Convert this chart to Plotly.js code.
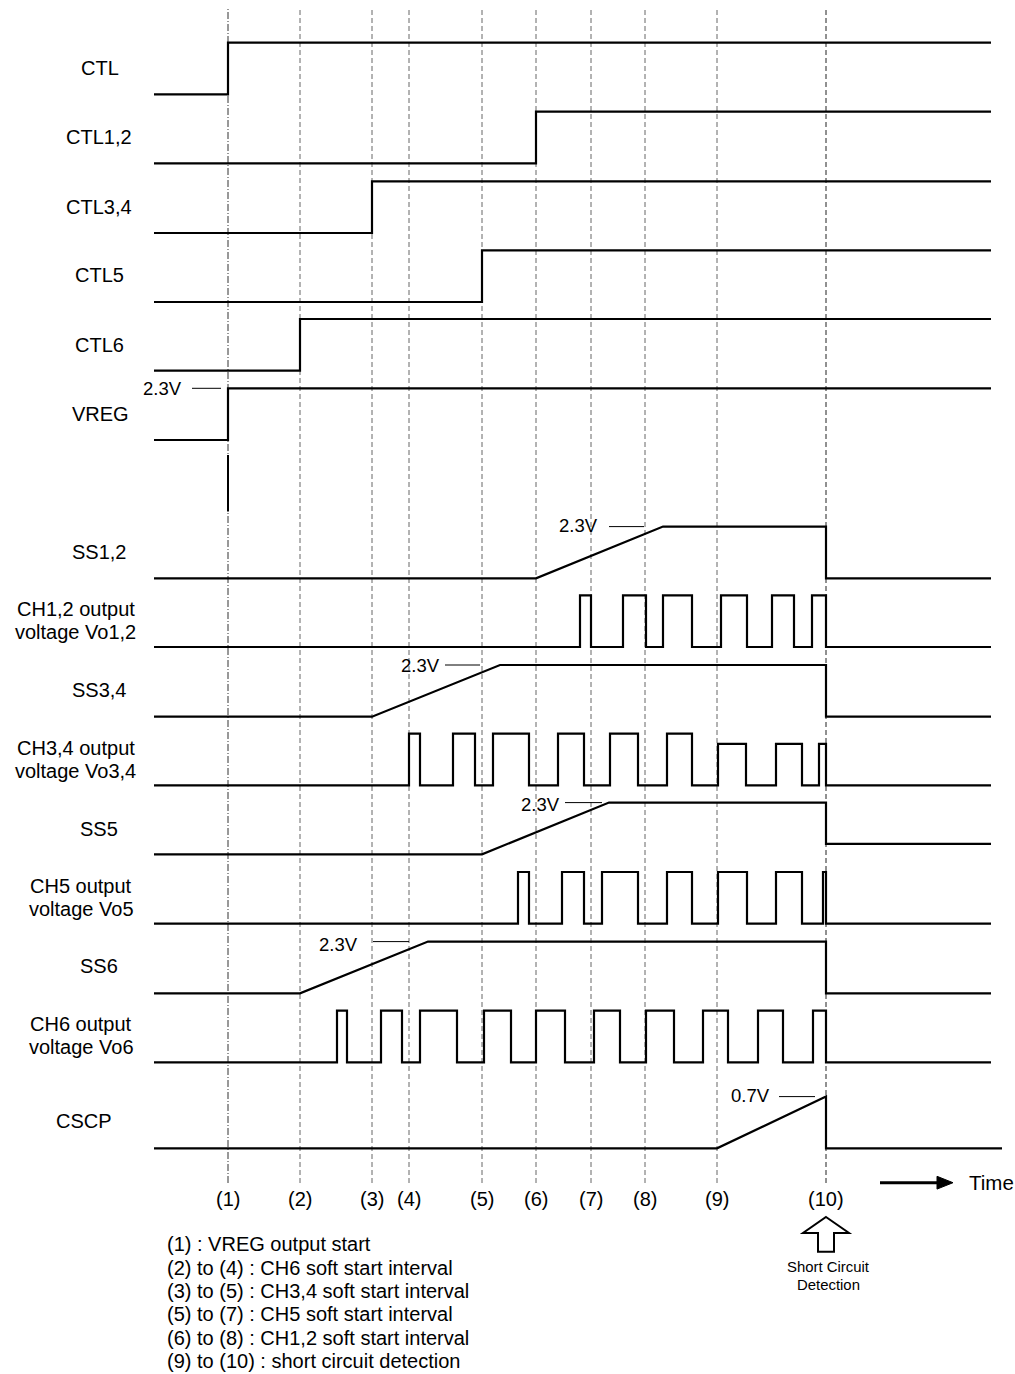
<!DOCTYPE html>
<html>
<head>
<meta charset="utf-8">
<script src="https://cdn.plot.ly/plotly-3.0.1.min.js"></script>
<style>html,body{margin:0;padding:0;background:#fff;}#chart{width:1015px;height:1374px;}</style>
</head>
<body>
<div id="chart"></div>
<script>
// ---------------- DATA ----------------
const eventLabels = ['(1)','(2)','(3)','(4)','(5)','(6)','(7)','(8)','(9)','(10)'];
const eventTimes  = [228, 300, 372, 409, 482, 536, 591, 645, 717, 826];

const tStart = 154;
const tEnd = 991;
const tDetect = 826;

// step signals (low -> high at rise time)
const stepNames = ['CTL', 'CTL1,2', 'CTL3,4', 'CTL5', 'CTL6', 'VREG'];
const stepRise  = [228, 536, 372, 482, 300, 228];

// soft-start ramps (level 1 = 2.3V)
const rampNames    = ['SS1,2', 'SS3,4', 'SS5', 'SS6'];
const rampStart    = [536, 372, 482, 300];
const rampTop      = [663, 500, 609, 428];
const rampAfterLvl = [0, 0, 0.2, 0];

// switching outputs
const ch12Rise = [580, 623, 663, 721, 772, 812];
const ch12Fall = [591, 646, 692, 747, 794, 826];
const ch12Amp  = [1, 1, 1, 1, 1, 1];

const ch34Rise = [409, 453, 493, 558, 610, 667, 718, 776, 819];
const ch34Fall = [420, 475, 529, 584, 638, 692, 746, 802, 826];
const ch34Amp  = [1, 1, 1, 1, 1, 1, 0.8, 0.8, 0.8];

const ch5Rise = [518, 562, 602, 667, 718, 776, 823];
const ch5Fall = [529, 584, 638, 692, 747, 802, 826];
const ch5Amp  = [1, 1, 1, 1, 1, 1, 1];

const ch6Rise = [337, 381, 420, 484, 536, 594, 646, 703, 758, 813];
const ch6Fall = [347, 402, 457, 511, 565, 620, 674, 728, 783, 826];
const ch6Amp  = [1, 1, 1, 1, 1, 1, 1, 1, 1, 1];

// short-circuit timer (level 1 = 0.7V)
const cscpTimes  = [154, 717, 826, 826, 1002];
const cscpLevels = [0, 0, 1, 0, 0];

const legendLines = [
  '(1) : VREG output start',
  '(2) to (4) : CH6 soft start interval',
  '(3) to (5) : CH3,4 soft start interval',
  '(5) to (7) : CH5 soft start interval',
  '(6) to (8) : CH1,2 soft start interval',
  '(9) to (10) : short circuit detection'
];

// ---------------- LAYOUT CONSTANTS ----------------
const W = 1015, H = 1374;
const FONT = 'Liberation Sans, Arial, Helvetica, sans-serif';
const rowBase = [94.3, 163.3, 233, 302, 370.7, 440, 578.3, 647, 716.7, 785.3, 854.3, 923.7, 993.3, 1062.3, 1148.3];
const rowH = 51.7;
const padLo = 0.3, padHi = 1.3;
const py = v => 1 - v / H;

// row label positions: [text, centerX, centerY]
const rowLabels = [
  ['CTL', 100, 68], ['CTL1,2', 99, 137], ['CTL3,4', 99, 207], ['CTL5', 99.5, 275],
  ['CTL6', 99.5, 345], ['VREG', 100, 414],
  ['SS1,2', 99.3, 552], ['CH1,2 output', 75.5, 609], ['voltage Vo1,2', 75.8, 632.5],
  ['SS3,4', 99.3, 690], ['CH3,4 output', 75.5, 748], ['voltage Vo3,4', 75.8, 771],
  ['SS5', 99, 828.5], ['CH5 output', 81, 886], ['voltage Vo5', 81.5, 908.5],
  ['SS6', 98.5, 966], ['CH6 output', 81, 1024], ['voltage Vo6', 81.5, 1047],
  ['CSCP', 84, 1121]
];

// ---------------- BUILD ----------------
function stepSeries(rise) {
  return {t: [tStart, rise, rise, tEnd], v: [0, 0, 1, 1]};
}
function rampSeries(s, top, after) {
  return {t: [tStart, s, top, tDetect, tDetect, tEnd], v: [0, 0, 1, 1, after, after]};
}
function pulseSeries(rise, fall, amp) {
  const t = [tStart], v = [0];
  for (let i = 0; i < rise.length; i++) {
    t.push(rise[i], rise[i], fall[i], fall[i]);
    v.push(0, amp[i], amp[i], 0);
  }
  t.push(tEnd); v.push(0);
  return {t, v};
}

const series = [];
stepNames.forEach((n, i) => series.push(stepSeries(stepRise[i])));
series.push(rampSeries(rampStart[0], rampTop[0], rampAfterLvl[0]));
series.push(pulseSeries(ch12Rise, ch12Fall, ch12Amp));
series.push(rampSeries(rampStart[1], rampTop[1], rampAfterLvl[1]));
series.push(pulseSeries(ch34Rise, ch34Fall, ch34Amp));
series.push(rampSeries(rampStart[2], rampTop[2], rampAfterLvl[2]));
series.push(pulseSeries(ch5Rise, ch5Fall, ch5Amp));
series.push(rampSeries(rampStart[3], rampTop[3], rampAfterLvl[3]));
series.push(pulseSeries(ch6Rise, ch6Fall, ch6Amp));
series.push({t: cscpTimes, v: cscpLevels});

const layout = {
  width: W, height: H,
  margin: {l: 0, r: 0, t: 0, b: 0, pad: 0},
  paper_bgcolor: '#ffffff',
  plot_bgcolor: 'rgba(0,0,0,0)',
  showlegend: false,
  font: {family: FONT, size: 20, color: '#000'},
  xaxis: {range: [0, W], domain: [0, 1], visible: false, fixedrange: true},
  shapes: [],
  annotations: []
};

const traces = [];
const yName = i => (i === 0 ? 'y' : 'y' + (i + 1));
const yKey = i => (i === 0 ? 'yaxis' : 'yaxis' + (i + 1));

series.forEach((s, i) => {
  const base = rowBase[i];
  layout[yKey(i)] = {
    range: [-padLo, padHi],
    domain: [1 - (base + padLo * rowH) / H, 1 - (base - padHi * rowH) / H],
    visible: false, fixedrange: true, anchor: 'x'
  };
  traces.push({
    x: s.t, y: s.v, xaxis: 'x', yaxis: yName(i),
    type: 'scatter', mode: 'lines',
    line: {color: '#000', width: 2.2, shape: 'linear'},
    hoverinfo: 'skip'
  });
});

// vertical event lines
eventTimes.forEach((t, i) => {
  layout.shapes.push({
    type: 'line', layer: 'below', xref: 'x', yref: 'paper',
    x0: t, x1: t, y0: py(1183), y1: py(7),
    line: {color: i === 0 ? '#333' : (i === 9 ? '#222' : '#666'), width: 1,
           dash: i === 0 ? '7px,2px,1px,2px' : '5px,3px'}
  });
  layout.annotations.push({
    xref: 'x', yref: 'paper', x: t, y: py(1199), text: eventLabels[i],
    showarrow: false, xanchor: 'center', yanchor: 'middle',
    font: {family: FONT, size: 20, color: '#000'}
  });
});

// VREG solid marker under line (1)
layout.shapes.push({
  type: 'line', xref: 'x', yref: 'paper', x0: eventTimes[0], x1: eventTimes[0],
  y0: py(511.5), y1: py(455), line: {color: '#000', width: 2}
});

// voltage level callouts: [row index, text, textRightX, tickX0, tickX1, textLevel]
const callouts = [
  [5, '2.3V', 184, 192, 221, 1.0],
  [6, '2.3V', 600, 609, 644, 1.03],
  [8, '2.3V', 442, 445, 480, 1.0],
  [10, '2.3V', 562, 565, 602, 0.96],
  [12, '2.3V', 360, 373, 409, 0.95],
  [14, '0.7V', 772, 779, 815, 1.02]
];
callouts.forEach(c => {
  layout.shapes.push({
    type: 'line', xref: 'x', yref: yName(c[0]), x0: c[3], x1: c[4], y0: 1, y1: 1,
    line: {color: '#000', width: 1}
  });
  layout.annotations.push({
    xref: 'x', yref: yName(c[0]), x: c[2], y: c[5], text: c[1],
    showarrow: false, xanchor: 'right', yanchor: 'middle',
    font: {family: FONT, size: 18.5, color: '#000'}
  });
});

// row labels
rowLabels.forEach(l => {
  layout.annotations.push({
    xref: 'paper', yref: 'paper', x: l[1] / W, y: py(l[2]), text: l[0],
    showarrow: false, xanchor: 'center', yanchor: 'middle',
    font: {family: FONT, size: 20, color: '#000'}
  });
});

// legend / notes
const legendY = [1244, 1267.7, 1291, 1314.3, 1337.7, 1361];
legendLines.forEach((s, i) => {
  layout.annotations.push({
    xref: 'paper', yref: 'paper', x: 165 / W, y: py(legendY[i]), text: s,
    showarrow: false, xanchor: 'left', yanchor: 'middle',
    font: {family: FONT, size: 20, color: '#000'}
  });
});

// Time arrow
layout.shapes.push({
  type: 'line', xref: 'x', yref: 'paper', x0: 880, x1: 940, y0: py(1182.7), y1: py(1182.7),
  line: {color: '#000', width: 3}
});
layout.shapes.push({
  type: 'path', xref: 'x', yref: 'paper',
  path: `M 937 ${py(1176.3)} L 953 ${py(1182.7)} L 937 ${py(1189.1)} Z`,
  fillcolor: '#000', line: {color: '#000', width: 1}
});
layout.annotations.push({
  xref: 'x', yref: 'paper', x: 967, y: py(1182), text: 'Time',
  showarrow: false, xanchor: 'left', yanchor: 'middle',
  font: {family: FONT, size: 20.5, color: '#000'}
});

// hollow up arrow for short-circuit detection
const ax = tDetect;
layout.shapes.push({
  type: 'path', xref: 'x', yref: 'paper',
  path: `M ${ax} ${py(1217)} L ${ax + 23} ${py(1233)} L ${ax + 8} ${py(1233)} L ${ax + 8} ${py(1251.7)} ` +
        `L ${ax - 8} ${py(1251.7)} L ${ax - 8} ${py(1233)} L ${ax - 23} ${py(1233)} Z`,
  fillcolor: '#fff', line: {color: '#000', width: 2}
});
layout.annotations.push({
  xref: 'x', yref: 'paper', x: ax + 2, y: py(1266.5), text: 'Short Circuit',
  showarrow: false, xanchor: 'center', yanchor: 'middle',
  font: {family: FONT, size: 14.9, color: '#000'}
});
layout.annotations.push({
  xref: 'x', yref: 'paper', x: ax + 2, y: py(1285), text: 'Detection',
  showarrow: false, xanchor: 'center', yanchor: 'middle',
  font: {family: FONT, size: 14.9, color: '#000'}
});

Plotly.newPlot('chart', traces, layout, {staticPlot: true, displayModeBar: false});
</script>
</body>
</html>
